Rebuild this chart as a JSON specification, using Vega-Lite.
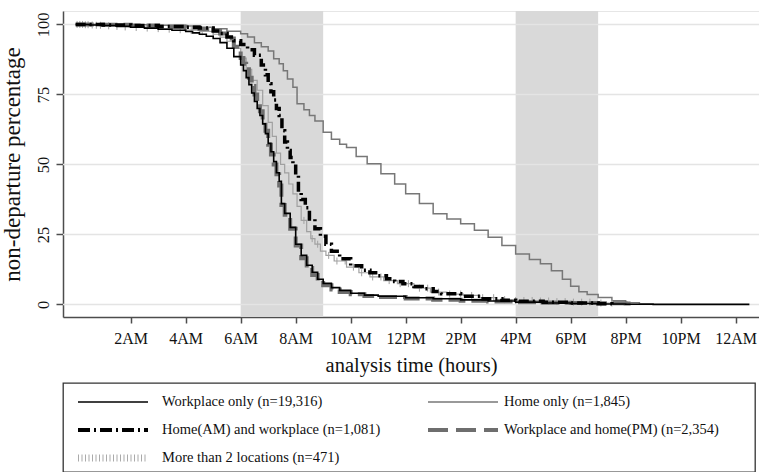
{
  "$schema": "https://vega.github.io/schema/vega-lite/v6.json",
  "background": "white",
  "padding": {"left": 0, "top": 10, "right": 0, "bottom": 0},
  "spacing": 66,
  "bounds": "flush",
  "config": {
    "font": "Liberation Serif",
    "axisX": {"grid": false, "domainColor": "#4d4d4d", "domainWidth": 1.5, "tickColor": "#4d4d4d", "tickWidth": 1.5, "tickSize": 6, "labelFont": "Liberation Serif", "labelFontSize": 16, "labelColor": "#111111", "labelPadding": 7, "labelFlush": false, "labelOverlap": false, "titleFont": "Liberation Serif", "titleFontSize": 20.5, "titleFontWeight": "normal", "titleColor": "#111111", "titlePadding": 9},
    "axisY": {"grid": false, "domainColor": "#4d4d4d", "domainWidth": 1.5, "tickColor": "#4d4d4d", "tickWidth": 1.5, "tickSize": 7, "labelFont": "Liberation Serif", "labelFontSize": 16.5, "labelColor": "#111111", "labelAngle": -90, "labelAlign": "center", "labelBaseline": "bottom", "labelPadding": 5, "labelFlush": false, "labelOverlap": false, "titleFont": "Liberation Serif", "titleFontSize": 23, "titleFontWeight": "normal", "titleColor": "#111111", "titlePadding": 11}
  },
  "datasets": {
    "bands": [{"h": 6, "h2": 9}, {"h": 16, "h2": 19}],
    "grid": [{"v": 0}, {"v": 25}, {"v": 50}, {"v": 75}, {"v": 100}],
    "W": [{"h":0,"v":100},{"h":0.5,"v":99.8},{"h":1,"v":99.6},{"h":1.5,"v":99.3},{"h":2,"v":99.0},{"h":2.5,"v":98.7},{"h":3,"v":98.3},{"h":3.5,"v":97.9},{"h":4,"v":97.5},{"h":4.25,"v":97.0},{"h":4.5,"v":96.5},{"h":4.75,"v":95.8},{"h":5,"v":95.0},{"h":5.25,"v":93.5},{"h":5.5,"v":91.5},{"h":5.75,"v":88.5},{"h":6,"v":85.5},{"h":6.1,"v":83.5},{"h":6.2,"v":81},{"h":6.3,"v":78.5},{"h":6.4,"v":75.5},{"h":6.5,"v":72.5},{"h":6.6,"v":70},{"h":6.7,"v":67.5},{"h":6.8,"v":64.5},{"h":6.9,"v":61},{"h":7,"v":57.5},{"h":7.1,"v":54.5},{"h":7.2,"v":51},{"h":7.3,"v":47},{"h":7.4,"v":44},{"h":7.48,"v":36},{"h":7.6,"v":32.5},{"h":7.8,"v":27.5},{"h":8,"v":21.5},{"h":8.2,"v":17.5},{"h":8.4,"v":14},{"h":8.6,"v":11.5},{"h":8.8,"v":9},{"h":9,"v":7.5},{"h":9.3,"v":6},{"h":9.6,"v":5},{"h":10,"v":4},{"h":10.5,"v":3.3},{"h":11,"v":2.9},{"h":12,"v":2.4},{"h":13,"v":2},{"h":14,"v":1.6},{"h":15,"v":1.2},{"h":16,"v":0.8},{"h":17,"v":0.5},{"h":18,"v":0.3},{"h":19,"v":0.15},{"h":20,"v":0.05},{"h":21,"v":0},{"h":24.5,"v":0}],
    "PM": [{"h":0,"v":100},{"h":1,"v":99.9},{"h":2,"v":99.6},{"h":3,"v":99.2},{"h":4,"v":98.8},{"h":4.5,"v":98.4},{"h":5,"v":97.8},{"h":5.25,"v":96.8},{"h":5.5,"v":95},{"h":5.75,"v":92},{"h":6,"v":88},{"h":6.1,"v":86},{"h":6.2,"v":84},{"h":6.3,"v":81},{"h":6.4,"v":78},{"h":6.5,"v":75},{"h":6.6,"v":72},{"h":6.7,"v":69},{"h":6.8,"v":65.5},{"h":6.9,"v":62},{"h":7,"v":57},{"h":7.1,"v":53.5},{"h":7.2,"v":50},{"h":7.3,"v":46.5},{"h":7.4,"v":42.5},{"h":7.48,"v":35.5},{"h":7.6,"v":32},{"h":7.8,"v":27},{"h":8,"v":21},{"h":8.2,"v":16.5},{"h":8.4,"v":13},{"h":8.6,"v":10.5},{"h":8.8,"v":8.5},{"h":9,"v":6.8},{"h":9.3,"v":5.3},{"h":9.6,"v":4.4},{"h":10,"v":3.6},{"h":10.5,"v":3},{"h":11,"v":2.6},{"h":12,"v":2.1},{"h":13,"v":1.7},{"h":14,"v":1.3},{"h":15,"v":1.0},{"h":16,"v":0.8},{"h":17,"v":0.6},{"h":18,"v":0.5},{"h":19,"v":0.4},{"h":20,"v":0.3},{"h":20.4,"v":0.3}],
    "AM": [{"h":0,"v":100},{"h":1,"v":99.8},{"h":2,"v":99.6},{"h":3,"v":99.3},{"h":4,"v":99},{"h":4.5,"v":98.7},{"h":5,"v":97.7},{"h":5.25,"v":96.8},{"h":5.5,"v":95.5},{"h":5.75,"v":94.2},{"h":6,"v":92.8},{"h":6.25,"v":91},{"h":6.5,"v":89},{"h":6.75,"v":85.5},{"h":6.9,"v":82},{"h":7,"v":78.8},{"h":7.1,"v":76},{"h":7.2,"v":73},{"h":7.3,"v":70},{"h":7.4,"v":67.5},{"h":7.5,"v":62},{"h":7.6,"v":58},{"h":7.7,"v":55},{"h":7.8,"v":52.5},{"h":7.9,"v":50},{"h":8,"v":46},{"h":8.1,"v":40},{"h":8.2,"v":37.5},{"h":8.35,"v":34.5},{"h":8.5,"v":30.5},{"h":8.7,"v":27},{"h":8.9,"v":24.3},{"h":9.1,"v":21.5},{"h":9.3,"v":19},{"h":9.6,"v":16.3},{"h":10,"v":13.8},{"h":10.4,"v":12.2},{"h":10.7,"v":11.3},{"h":11,"v":10.2},{"h":11.3,"v":9.2},{"h":11.6,"v":8.2},{"h":11.9,"v":7.4},{"h":12.3,"v":6.4},{"h":12.6,"v":5.6},{"h":13,"v":4.6},{"h":13.3,"v":3.8},{"h":14,"v":2.9},{"h":14.7,"v":2},{"h":15.5,"v":1.5},{"h":16,"v":1.1},{"h":17,"v":0.8},{"h":18,"v":0.5},{"h":19,"v":0.2},{"h":19.5,"v":0}],
    "M2": [{"h":0,"v":100},{"h":1,"v":99.6},{"h":2,"v":99},{"h":3,"v":98.5},{"h":4,"v":98},{"h":4.5,"v":97.5},{"h":5,"v":96.5},{"h":5.25,"v":95.5},{"h":5.5,"v":94},{"h":5.75,"v":91.5},{"h":6,"v":88},{"h":6.2,"v":84},{"h":6.4,"v":80},{"h":6.6,"v":76.5},{"h":6.8,"v":71},{"h":7,"v":65},{"h":7.15,"v":60},{"h":7.3,"v":54},{"h":7.45,"v":50},{"h":7.6,"v":47},{"h":7.75,"v":43},{"h":7.9,"v":39.5},{"h":8.05,"v":35},{"h":8.2,"v":30},{"h":8.4,"v":26},{"h":8.55,"v":23.5},{"h":8.7,"v":21.5},{"h":8.9,"v":19},{"h":9.1,"v":17.5},{"h":9.4,"v":15.5},{"h":9.85,"v":13.3},{"h":10.3,"v":11.3},{"h":10.7,"v":9.8},{"h":11.2,"v":8.5},{"h":11.7,"v":7.4},{"h":12.3,"v":5.8},{"h":12.9,"v":4.4},{"h":13.5,"v":3.7},{"h":14.1,"v":3.2},{"h":14.7,"v":2.4},{"h":15.3,"v":1.7},{"h":16,"v":1.4},{"h":16.9,"v":1.2},{"h":17.5,"v":1},{"h":18,"v":0.8},{"h":19,"v":0.5},{"h":19.6,"v":0.5}],
    "M2ticks": [{"h":0.05,"v":100},{"h":0.15,"v":100},{"h":0.25,"v":100},{"h":0.35,"v":99.9},{"h":0.45,"v":99.9},{"h":0.6,"v":99.8},{"h":0.75,"v":99.7},{"h":0.9,"v":99.7},{"h":1.2,"v":99.5},{"h":1.5,"v":99.3},{"h":1.8,"v":99.1},{"h":2.2,"v":98.9},{"h":2.6,"v":98.7},{"h":3.0,"v":98.5},{"h":3.4,"v":98.3},{"h":3.8,"v":98.1},{"h":4.2,"v":97.8},{"h":4.6,"v":97.4},{"h":5.0,"v":96.5},{"h":8.3,"v":30},{"h":8.6,"v":23.5},{"h":8.8,"v":21.5},{"h":9.2,"v":17.5},{"h":9.5,"v":15.5},{"h":9.8,"v":15.5},{"h":10.1,"v":13.3},{"h":10.4,"v":11.3},{"h":10.8,"v":9.8},{"h":11.1,"v":9.8},{"h":11.4,"v":8.5},{"h":11.8,"v":7.4},{"h":12.1,"v":7.4},{"h":12.5,"v":5.8},{"h":12.8,"v":5.8},{"h":13.2,"v":4.4},{"h":13.6,"v":3.7},{"h":14.0,"v":3.7},{"h":14.4,"v":3.2},{"h":14.8,"v":2.4},{"h":15.2,"v":2.4},{"h":15.6,"v":1.7},{"h":16.0,"v":1.4},{"h":16.3,"v":1.4},{"h":16.6,"v":1.4},{"h":16.9,"v":1.2},{"h":17.2,"v":1.2},{"h":17.5,"v":1},{"h":17.8,"v":1},{"h":18.1,"v":0.8},{"h":18.4,"v":0.8},{"h":18.7,"v":0.8},{"h":19.1,"v":0.5},{"h":19.5,"v":0.5}],
    "H": [{"h":0,"v":100},{"h":2,"v":99.9},{"h":3,"v":99.7},{"h":4,"v":99.4},{"h":4.5,"v":99},{"h":5,"v":98.5},{"h":5.5,"v":97.6},{"h":6,"v":96.7},{"h":6.25,"v":95.5},{"h":6.5,"v":93.5},{"h":6.75,"v":92},{"h":7,"v":90.5},{"h":7.2,"v":87.7},{"h":7.4,"v":86},{"h":7.55,"v":83.5},{"h":7.7,"v":80.5},{"h":7.9,"v":77.6},{"h":8.05,"v":71.7},{"h":8.3,"v":69.5},{"h":8.5,"v":67.5},{"h":8.7,"v":65.5},{"h":9,"v":61.5},{"h":9.3,"v":59},{"h":9.6,"v":57.2},{"h":9.85,"v":56},{"h":10.2,"v":52.8},{"h":10.6,"v":50.2},{"h":11.1,"v":46.7},{"h":11.6,"v":43},{"h":12,"v":39.5},{"h":12.5,"v":36},{"h":13,"v":32.4},{"h":13.5,"v":30.5},{"h":14,"v":28.8},{"h":14.5,"v":26.5},{"h":15,"v":24},{"h":15.5,"v":21},{"h":16,"v":18},{"h":16.5,"v":16},{"h":16.9,"v":14.5},{"h":17.3,"v":12},{"h":17.7,"v":9},{"h":18,"v":6.5},{"h":18.3,"v":4.5},{"h":18.6,"v":3.5},{"h":19,"v":2.5},{"h":19.5,"v":1.3},{"h":20,"v":0.6},{"h":20.5,"v":0.2},{"h":21,"v":0}],
    "legend": [
      {"row": 1, "col": "c1", "series": "W", "label": "Workplace only (n=19,316)"},
      {"row": 1, "col": "c2", "series": "H", "label": "Home only (n=1,845)"},
      {"row": 2, "col": "c1", "series": "AM", "label": "Home(AM) and workplace (n=1,081)"},
      {"row": 2, "col": "c2", "series": "PM", "label": "Workplace and home(PM) (n=2,354)"},
      {"row": 3, "col": "c1", "series": "M2", "label": "More than 2 locations (n=471)"}
    ]
  },
  "vconcat": [
    {
      "width": 696,
      "height": 306,
      "view": {"stroke": "#e6e6e6"},
      "layer": [
        {
          "data": {"name": "bands"},
          "mark": {"type": "rect", "color": "#d9d9d9"},
          "encoding": {
            "x": {"field": "h", "type": "quantitative", "title": "analysis time (hours)", "scale": {"domain": [-0.462, 24.85], "nice": false, "zero": false}, "axis": {"values": [2,4,6,8,10,12,14,16,18,20,22,24], "labelExpr": "datum.value == 12 ? '12PM' : datum.value == 24 ? '12AM' : datum.value < 12 ? datum.value + 'AM' : (datum.value - 12) + 'PM'"}},
            "x2": {"field": "h2"}
          }
        },
        {
          "data": {"name": "grid"},
          "mark": {"type": "rule", "color": "#e4e4e4", "strokeWidth": 1.5},
          "encoding": {
            "y": {"field": "v", "type": "quantitative", "title": "non-departure percentage", "scale": {"domain": [-4.5, 104.8], "nice": false, "zero": false}, "axis": {"values": [0, 25, 50, 75, 100]}}
          }
        },
        {
          "data": {"name": "H"},
          "mark": {"type": "line", "interpolate": "step-after", "color": "#777777", "strokeWidth": 1.5},
          "encoding": {
            "x": {"field": "h", "type": "quantitative", "title": "analysis time (hours)", "scale": {"domain": [-0.462, 24.85], "nice": false, "zero": false}},
            "y": {"field": "v", "type": "quantitative", "title": "non-departure percentage", "scale": {"domain": [-4.5, 104.8], "nice": false, "zero": false}}
          }
        },
        {
          "data": {"name": "M2"},
          "mark": {"type": "line", "interpolate": "step-after", "color": "#a0a0a0", "strokeWidth": 1.2},
          "encoding": {
            "x": {"field": "h", "type": "quantitative", "title": "analysis time (hours)", "scale": {"domain": [-0.462, 24.85], "nice": false, "zero": false}},
            "y": {"field": "v", "type": "quantitative", "title": "non-departure percentage", "scale": {"domain": [-4.5, 104.8], "nice": false, "zero": false}}
          }
        },
        {
          "data": {"name": "M2ticks"},
          "mark": {"type": "point", "shape": "M0,-1L0,1", "size": 49, "filled": false, "color": "#a0a0a0", "strokeWidth": 1, "opacity": 1},
          "encoding": {
            "x": {"field": "h", "type": "quantitative", "title": "analysis time (hours)", "scale": {"domain": [-0.462, 24.85], "nice": false, "zero": false}},
            "y": {"field": "v", "type": "quantitative", "title": "non-departure percentage", "scale": {"domain": [-4.5, 104.8], "nice": false, "zero": false}}
          }
        },
        {
          "data": {"name": "PM"},
          "mark": {"type": "line", "interpolate": "step-after", "color": "#6e6e6e", "strokeWidth": 4, "strokeDash": [18, 6]},
          "encoding": {
            "x": {"field": "h", "type": "quantitative", "title": "analysis time (hours)", "scale": {"domain": [-0.462, 24.85], "nice": false, "zero": false}},
            "y": {"field": "v", "type": "quantitative", "title": "non-departure percentage", "scale": {"domain": [-4.5, 104.8], "nice": false, "zero": false}}
          }
        },
        {
          "data": {"name": "AM"},
          "mark": {"type": "line", "interpolate": "step-after", "color": "#000000", "strokeWidth": 3.5, "strokeDash": [10, 4, 2, 4]},
          "encoding": {
            "x": {"field": "h", "type": "quantitative", "title": "analysis time (hours)", "scale": {"domain": [-0.462, 24.85], "nice": false, "zero": false}},
            "y": {"field": "v", "type": "quantitative", "title": "non-departure percentage", "scale": {"domain": [-4.5, 104.8], "nice": false, "zero": false}}
          }
        },
        {
          "data": {"name": "W"},
          "mark": {"type": "line", "interpolate": "step-after", "color": "#000000", "strokeWidth": 1.6},
          "encoding": {
            "x": {"field": "h", "type": "quantitative", "title": "analysis time (hours)", "scale": {"domain": [-0.462, 24.85], "nice": false, "zero": false}},
            "y": {"field": "v", "type": "quantitative", "title": "non-departure percentage", "scale": {"domain": [-4.5, 104.8], "nice": false, "zero": false}}
          }
        }
      ]
    },
    {
      "width": 692,
      "height": 89,
      "view": {"stroke": "#333333", "strokeWidth": 1.3},
      "data": {"name": "legend"},
      "resolve": {"scale": {"x": "independent"}},
      "encoding": {
        "y": {"field": "row", "type": "ordinal", "scale": {"type": "point", "domain": [1, 2, 3], "range": [19, 75], "padding": 0}, "axis": null}
      },
      "layer": [
        {
          "layer": [
            {
              "transform": [{"filter": "datum.series == 'W'"}],
              "mark": {"type": "rule", "x2Offset": 70, "strokeCap": "butt", "color": "#000000", "strokeWidth": 1.6}
            },
            {
              "transform": [{"filter": "datum.series == 'H'"}],
              "mark": {"type": "rule", "x2Offset": 70, "strokeCap": "butt", "color": "#777777", "strokeWidth": 1.5}
            },
            {
              "transform": [{"filter": "datum.series == 'AM'"}],
              "mark": {"type": "rule", "x2Offset": 70, "strokeCap": "butt", "color": "#000000", "strokeWidth": 4, "strokeDash": [12, 4, 2, 4]}
            },
            {
              "transform": [{"filter": "datum.series == 'PM'"}],
              "mark": {"type": "rule", "x2Offset": 70, "strokeCap": "butt", "color": "#6e6e6e", "strokeWidth": 4, "strokeDash": [20, 8]}
            },
            {
              "transform": [{"filter": "datum.series == 'M2'"}],
              "mark": {"type": "rule", "x2Offset": 70, "strokeCap": "butt", "color": "#aaaaaa", "strokeWidth": 7, "strokeDash": [1, 2.5]}
            }
          ],
          "encoding": {
            "x": {"field": "col", "type": "ordinal", "scale": {"type": "point", "domain": ["c1", "c2"], "range": [15, 365], "padding": 0}, "axis": null},
            "x2": {"field": "col"}
          }
        },
        {
          "mark": {"type": "text", "align": "left", "baseline": "middle", "font": "Liberation Serif", "fontSize": 14.5, "color": "#111111"},
          "encoding": {
            "x": {"field": "col", "type": "ordinal", "scale": {"type": "point", "domain": ["c1", "c2"], "range": [99, 441], "padding": 0}, "axis": null},
            "text": {"field": "label", "type": "nominal"}
          }
        }
      ]
    }
  ]
}
